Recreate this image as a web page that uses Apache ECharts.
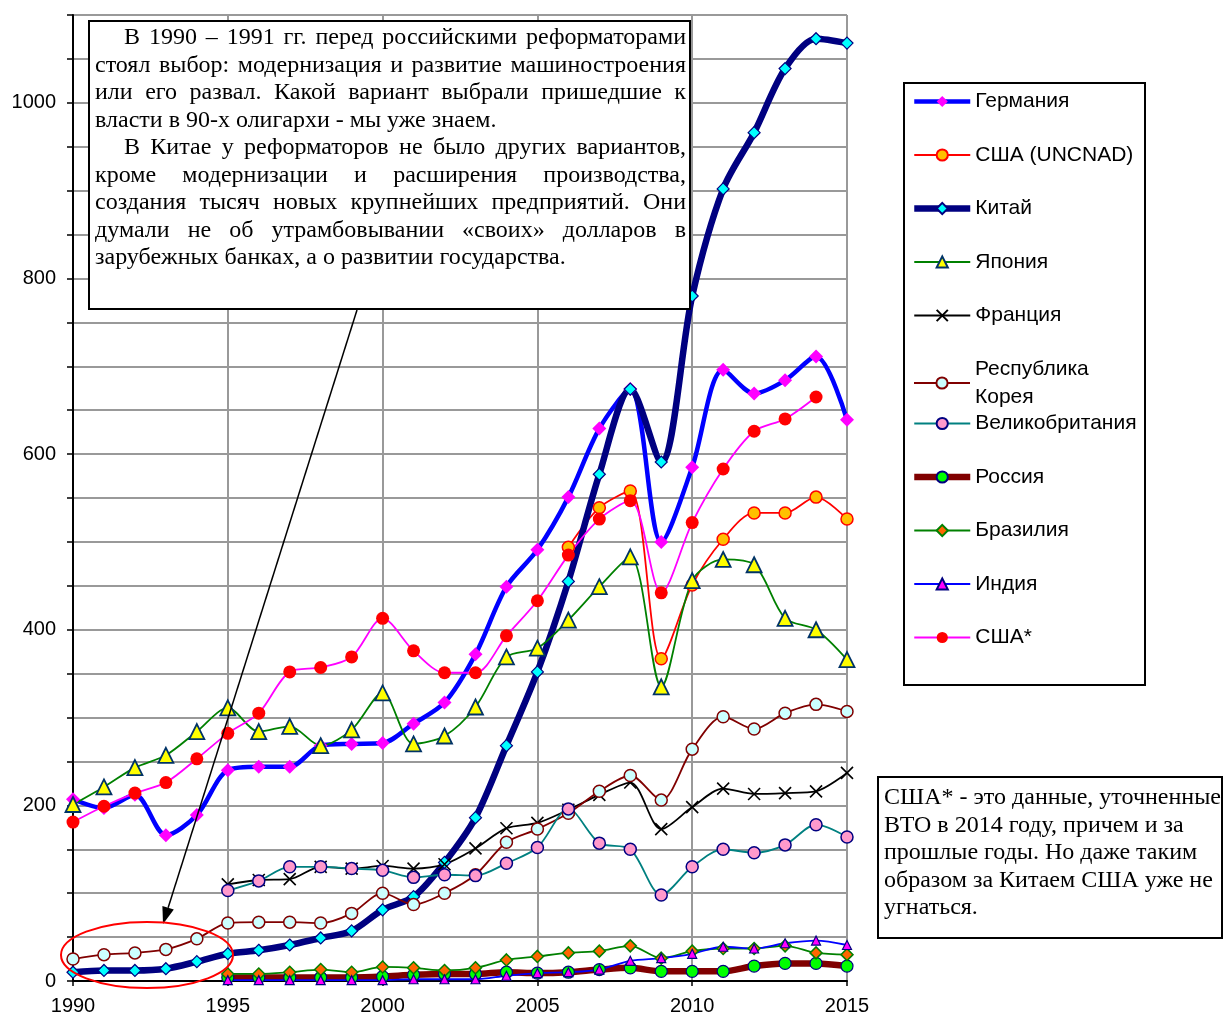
<!DOCTYPE html>
<html><head><meta charset="utf-8">
<script src="https://cdn.jsdelivr.net/npm/echarts@6/dist/echarts.min.js"></script>
<style>html,body{margin:0;padding:0;background:#fff}#c{width:1225px;height:1017px}</style>
</head><body><div id="c"></div>
<script>
const years = [1990,1991,1992,1993,1994,1995,1996,1997,1998,1999,2000,2001,2002,2003,2004,2005,2006,2007,2008,2009,2010,2011,2012,2013,2014,2015];
const germany   = [207,197,212,166,189,240,244,244,268,270,271,293,317,372,449,491,551,629,674,500,585,696,669,684,711,639];
const usaUnctad = [null,null,null,null,null,null,null,null,null,null,null,null,null,null,null,null,494,539,558,367,451,503,533,533,551,526];
const china     = [10,12,12,14,22,31,35,41,49,57,81,96,135,186,268,352,455,577,674,591,780,902,966,1039,1073,1068];
const japan     = [201,221,243,257,284,311,284,290,268,286,328,270,279,312,369,379,411,449,483,335,456,480,474,413,400,366];
const france    = [null,null,null,null,null,110,115,116,130,128,131,128,133,151,174,180,195,212,226,173,198,219,213,214,216,237];
const korea     = [25,30,32,36,48,66,67,67,66,77,100,87,100,121,158,173,191,216,234,206,264,301,287,305,315,307];
const uk        = [null,null,null,null,null,103,114,130,130,128,126,118,121,120,134,152,196,157,150,98,130,150,146,155,178,164];
const russia    = [null,null,null,null,null,4,4,4,4,4,5,7,8,8,10,9,10,13,15,11,11,11,17,20,20,17];
const brazil    = [null,null,null,null,null,8,8,10,13,10,16,15,12,15,24,28,32,34,40,26,34,37,37,40,32,30];
const india     = [null,null,null,null,null,1,1,1,1,1,1,2,2,2,6,9,10,13,23,26,31,39,37,43,46,41];
const usaWto    = [181,199,214,226,253,282,305,352,357,369,413,376,351,351,393,433,485,526,547,442,522,583,626,640,665,null];

const names = ['Германия','США (UNCNAD)','Китай','Япония','Франция','Республика Корея','Великобритания','Россия','Бразилия','Индия','США*'];
const yTickLabels = [0,200,400,600,800,1000];

const noteLines = [
  'В 1990 – 1991 гг. перед российскими реформаторами',
  'стоял выбор: модернизация и развитие машиностроения',
  'или его развал. Какой вариант выбрали пришедшие к',
  'власти в 90-х олигархи - мы уже знаем.',
  'В Китае у реформаторов не было других вариантов,',
  'кроме модернизации и расширения производства,',
  'создания тысяч новых крупнейших предприятий. Они',
  'думали не об утрамбовывании «своих» долларов в',
  'зарубежных банках, а о развитии государства.'
];
const noteIndent = [true,false,false,false,true,false,false,false,false];
const noteJustify = [true,true,true,false,true,true,true,true,false];
const note2Lines = [
  'США* - это данные, уточненные',
  'ВТО в 2014 году, причем и за',
  'прошлые годы. Но даже таким',
  'образом за Китаем США уже не',
  'угнаться.'
];

const SANS = '"Liberation Sans", Arial, sans-serif';
const SERIF_FONT = '24px "Liberation Serif", "Times New Roman", serif';

function pairs(arr){ return years.map((y,i)=>[y, arr[i]]); }

function mk(name, data, o){
  return {
    name, type:'line', data: pairs(data), smooth: 0.3, showAllSymbol: true, connectNulls: false,
    symbol: o.symbol, symbolSize: o.size,
    lineStyle: {color: o.line, width: o.lw},
    itemStyle: {color: o.fill, borderColor: o.border, borderWidth: o.bw},
    emphasis: {disabled: true}, z: 3
  };
}
const XPATH = 'path://M0,0L10,10M0,10L10,0';
const series = [
  mk(names[0], germany,   {symbol:'diamond', size:14, line:'#0000FF', lw:4.5, fill:'#FF00FF', border:'#FF00FF', bw:0}),
  mk(names[1], usaUnctad, {symbol:'circle',  size:12, line:'#FF0000', lw:1.8, fill:'#FFC000', border:'#FF0000', bw:1.5}),
  mk(names[2], china,     {symbol:'diamond', size:12, line:'#000080', lw:6.5, fill:'#00FFFF', border:'#000080', bw:1.2}),
  mk(names[3], japan,     {symbol:'triangle',size:15, line:'#008000', lw:1.8, fill:'#FFFF00', border:'#003366', bw:1.8}),
  mk(names[4], france,    {symbol:XPATH,     size:12, line:'#000000', lw:1.8, fill:'#000000', border:'#000000', bw:1.6}),
  mk(names[5], korea,     {symbol:'circle',  size:12, line:'#800000', lw:1.8, fill:'#CCFFFF', border:'#800000', bw:1.5}),
  mk(names[6], uk,        {symbol:'circle',  size:12, line:'#008080', lw:1.8, fill:'#FF99CC', border:'#000080', bw:1.5}),
  mk(names[7], russia,    {symbol:'circle',  size:12, line:'#800000', lw:6.5, fill:'#00FF00', border:'#000080', bw:1.2}),
  mk(names[8], brazil,    {symbol:'diamond', size:12, line:'#008000', lw:1.8, fill:'#FF6600', border:'#008000', bw:1.5}),
  mk(names[9], india,     {symbol:'triangle',size:9,  line:'#0000FF', lw:1.8, fill:'#FF00FF', border:'#000080', bw:1.2}),
  mk(names[10], usaWto,   {symbol:'circle',  size:13, line:'#FF00FF', lw:1.8, fill:'#FF0000', border:'#FF0000', bw:0})
];

// justified annotation text
const mctx = document.createElement('canvas').getContext('2d');
mctx.font = SERIF_FONT;
function textEl(t, x, y){
  return {type:'text', x, y, z: 101, style:{text:t, font:SERIF_FONT, fill:'#000', align:'left', verticalAlign:'middle'}};
}
function lineEls(str, x0, x1, y, justify){
  if (!justify) return [textEl(str, x0, y)];
  const words = str.split(' ');
  const w = words.map(s=>mctx.measureText(s).width);
  const total = w.reduce((a,b)=>a+b,0);
  const gap = (x1 - x0 - total)/(words.length-1);
  const out=[]; let x=x0;
  words.forEach((s,i)=>{ out.push(textEl(s, x, y)); x += w[i]+gap; });
  return out;
}
const graphics = [];
graphics.push({type:'rect', z:100, shape:{x:89,y:21,width:601,height:288}, style:{fill:'#fff', stroke:'#000', lineWidth:2}});
noteLines.forEach((s,i)=>{
  const x0 = noteIndent[i] ? 124 : 95;
  graphics.push(...lineEls(s, x0, 686, 38 + i*27.5, noteJustify[i]));
});
graphics.push({type:'rect', z:100, shape:{x:878,y:777,width:344,height:161}, style:{fill:'#fff', stroke:'#000', lineWidth:2}});
note2Lines.forEach((s,i)=>{ graphics.push(textEl(s, 884, 798 + i*27.5)); });
// legend frame
graphics.push({type:'rect', z:0, shape:{x:904,y:83,width:241,height:602}, style:{fill:'none', stroke:'#000', lineWidth:2}});
// arrow
const ax0=357, ay0=310, ax1=163, ay1=924;
const L = Math.hypot(ax1-ax0, ay1-ay0), dx=(ax1-ax0)/L, dy=(ay1-ay0)/L;
const hl=17, hw=6;
const bx = ax1-dx*hl, by = ay1-dy*hl;
graphics.push({type:'line', z:102, shape:{x1:ax0,y1:ay0,x2:bx,y2:by}, style:{stroke:'#000', lineWidth:1.5}});
graphics.push({type:'polygon', z:102, shape:{points:[[ax1,ay1],[bx-dy*hw, by+dx*hw],[bx+dy*hw, by-dx*hw]]}, style:{fill:'#000'}});
graphics.push({type:'ellipse', z:102, shape:{cx:147,cy:955,rx:86,ry:33}, style:{fill:'none', stroke:'#FF0000', lineWidth:2}});

const legendText = {fontSize:21, fontFamily:SANS, color:'#000', lineHeight:20,
  rich:{k:{fontSize:21, fontFamily:SANS, color:'#000', lineHeight:28}}};
const thick = {'Германия':4.5, 'Китай':6.5, 'Россия':6.5};
function legendCfg(list, top, left){
  return {orient:'vertical', left, top, padding:0, itemGap:32.5, itemWidth:56, itemHeight:14,
    selectedMode:false, textStyle: legendText,
    data: list.map(n => thick[n] ? {name:n, lineStyle:{width:thick[n]}} : n),
    formatter: n => n === 'Республика Корея' ? '{k|Республика}\n{k|Корея}' : n};
}

const chart = echarts.init(document.getElementById('c'), null, {renderer:'canvas'});
chart.setOption({
  animation:false,
  backgroundColor:'#fff',
  grid:{left:73, right:378, top:15, bottom:36, containLabel:false},
  xAxis:{type:'value', min:1990, max:2015, interval:5,
    axisLine:{show:true, lineStyle:{color:'#000', width:2}},
    axisTick:{show:true, length:5, lineStyle:{color:'#000', width:1.5}},
    axisLabel:{fontSize:20, fontFamily:SANS, color:'#000', margin:15, formatter: v=>String(v)},
    splitLine:{show:true, lineStyle:{color:'#999999', width:2}}},
  yAxis:{type:'value', min:0, max:1100, interval:50,
    axisLine:{show:true, onZero:false, lineStyle:{color:'#000', width:2}},
    axisTick:{show:true, length:6, lineStyle:{color:'#000', width:1.5}},
    axisLabel:{fontSize:20, fontFamily:SANS, color:'#000', margin:17,
      formatter: v => yTickLabels.indexOf(v) >= 0 ? String(v) : ''},
    splitLine:{show:true, lineStyle:{color:'#999999', width:2}}},
  legend:[
    legendCfg(names.slice(0,5), 91, 911),
    legendCfg([names[5]], 355, 913),
    legendCfg(names.slice(6), 413, 911)
  ],
  series,
  graphic:{elements:graphics}
});
</script></body></html>
